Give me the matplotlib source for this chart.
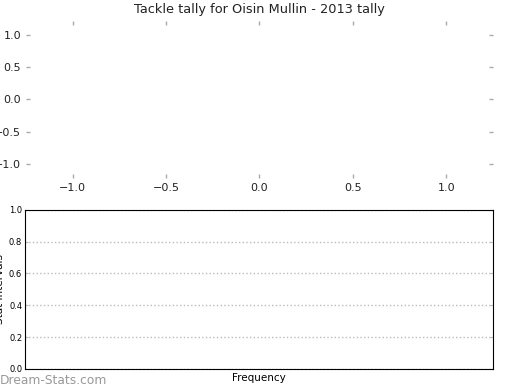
import matplotlib
matplotlib.use("Agg")
import matplotlib.pyplot as plt

# datos del gráfico (vacío: sin placajes registrados)
titulo = "Tackle tally for Oisin Mullin - 2013 tally"
ticks_arriba = [-1.0, -0.5, 0.0, 0.5, 1.0]
ticks_abajo = [0.0, 0.2, 0.4, 0.6, 0.8, 1.0]
frecuencias = []  # no hay barras

fig = plt.figure(figsize=(5.2, 3.9), dpi=100)

# panel superior (tarta vacía)
ax1 = fig.add_axes([0.05, 0.5436, 0.898, 0.4026])
ax1.set_xlim(-1.25, 1.25)
ax1.set_ylim(-1.225, 1.225)
ax1.set_xticks(ticks_arriba)
ax1.set_yticks(ticks_arriba)
for s in ax1.spines.values():
    s.set_visible(False)
ax1.tick_params(axis="both", which="both", direction="in", color="#aaaaaa", length=3, width=1,
                labelsize=8, top=True, right=True, labelcolor="#222222", pad=3.5)
ax1.set_title(titulo, fontsize=9.3, color="#222222", pad=6)

# panel inferior (histograma vacío)
ax2 = fig.add_axes([0.048, 0.054, 0.900, 0.408])
ax2.barh(range(len(frecuencias)), frecuencias)
ax2.set_ylim(0, 1)
ax2.set_yticks(ticks_abajo)
ax2.set_xticks([])
ax2.tick_params(axis="y", direction="in", labelsize=6, color="#bbbbbb", length=2, right=True, pad=2)
ax2.yaxis.grid(True, linestyle=":", color="#bbbbbb", linewidth=1)
ax2.set_xlabel("Frequency", fontsize=7.5, labelpad=3)
ax2.set_ylabel("Stat intervals", fontsize=7.5, labelpad=1)
ax2.yaxis.set_label_coords(-0.042, 0.5)

fig.text(0.0, 0.015, "Dream-Stats.com", fontsize=8.8, color="#999999")

fig.savefig("out.png", dpi=100)
